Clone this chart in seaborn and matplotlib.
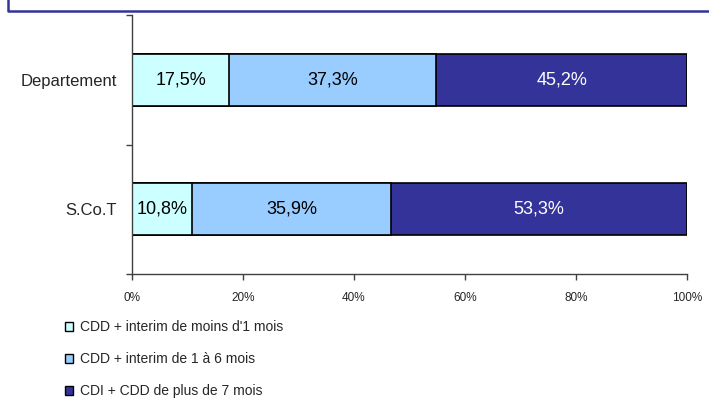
import matplotlib
matplotlib.use("Agg")
import matplotlib.pyplot as plt
import seaborn as sns
import pandas as pd
from matplotlib.patches import Patch
from matplotlib.lines import Line2D

categories = ["Departement", "S.Co.T"]
series_names = ["CDD + interim de moins d'1 mois",
                "CDD + interim de 1 à 6 mois",
                "CDI + CDD de plus de 7 mois"]
short_vals = [17.5, 10.8]
mid_vals = [37.3, 35.9]
long_vals = [45.2, 53.3]
value_labels = [["17,5%", "10,8%"], ["37,3%", "35,9%"], ["45,2%", "53,3%"]]
colors = ["#CCFFFF", "#99CCFF", "#333399"]
text_colors = ["black", "black", "white"]
xticks = [0, 20, 40, 60, 80, 100]
xticklabels = ["0%", "20%", "40%", "60%", "80%", "100%"]

sns.set_theme(style="white")
plt.rcParams['font.family'] = ['Liberation Sans', 'DejaVu Sans']

W, H = 709, 401
fig = plt.figure(figsize=(W / 100, H / 100), dpi=100)
ax = fig.add_axes([132 / W, 1 - 274 / H, (687 - 132) / W, (274 - 15) / H])

df = pd.DataFrame({"cat": categories, "s1": short_vals, "s2": mid_vals, "s3": long_vals})
df["c1"] = df["s1"]
df["c2"] = df["s1"] + df["s2"]
df["c3"] = df["c2"] + df["s3"]

for col, color in zip(["c3", "c2", "c1"], colors[::-1]):
    sns.barplot(data=df, x=col, y="cat", order=categories, color=color,
                saturation=1, edgecolor="black", linewidth=1.2, width=0.4,
                ax=ax, errorbar=None)

series = [short_vals, mid_vals, long_vals]
for i in range(len(categories)):
    left = 0
    for j, vals in enumerate(series):
        ax.text(left + vals[i] / 2, i, value_labels[j][i], ha="center", va="center",
                fontsize=13, color=text_colors[j])
        left += vals[i]

ax.set_xlim(0, 100)
ax.set_ylim(1.5, -0.5)
ax.set_xlabel("")
ax.set_ylabel("")
axis_color = "#404040"
for s in ["top", "right"]:
    ax.spines[s].set_visible(False)
for s in ["left", "bottom"]:
    ax.spines[s].set_color(axis_color)
    ax.spines[s].set_linewidth(1.0)

ax.set_xticks(xticks)
ax.set_xticklabels(xticklabels, fontsize=8.5)
ax.tick_params(axis="x", direction="out", length=4, width=1, color=axis_color, pad=9, bottom=True)
ax.set_yticks([0, 1])
ax.set_yticklabels(categories, fontsize=12)
ax.tick_params(axis="y", which="major", length=0, pad=11, left=True)
ax.set_yticks([-0.5, 0.5, 1.5], minor=True)
ax.tick_params(axis="y", which="minor", direction="out", length=4, width=1, color=axis_color, left=True)

handles = [Patch(facecolor=c, edgecolor="black", linewidth=1.0) for c in colors]
fig.legend(handles, series_names, loc="upper left", bbox_to_anchor=(65 / W, 1 - 320 / H),
           frameon=False, fontsize=10, handlelength=0.6, handleheight=0.6,
           handletextpad=0.5, labelspacing=1.3, borderpad=0, borderaxespad=0)

fig.add_artist(Line2D([8 / W, 8 / W, 1.0], [1.0, 1 - 11 / H, 1 - 11 / H],
                      color="#333399", lw=1.8, transform=fig.transFigure))

fig.savefig("out.png", dpi=100)
